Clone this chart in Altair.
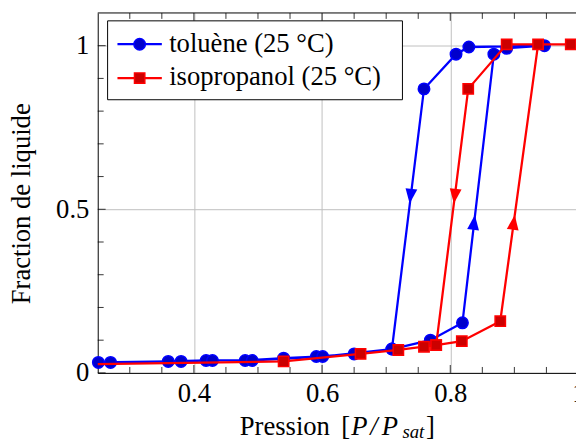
import altair as alt
import pandas as pd

# ---------------- data ----------------
# toluène (25 °C): adsorption branch then desorption branch (path order)
tol_x = [0.251, 0.360, 0.419, 0.480, 0.540, 0.591, 0.650, 0.709, 0.769, 0.819, 0.868, 0.888, 0.947,
         0.829, 0.809, 0.759, 0.709, 0.601, 0.491, 0.429, 0.380, 0.270]
tol_y = [0.032, 0.035, 0.038, 0.038, 0.045, 0.050, 0.058, 0.073, 0.100, 0.153, 0.974, 0.992, 1.000,
         0.996, 0.974, 0.868, 0.073, 0.050, 0.038, 0.038, 0.035, 0.032]
# isopropanol (25 °C): adsorption branch then desorption branch (first point lies left of the axis)
iso_x = [0.220, 0.540, 0.660, 0.719, 0.759, 0.778, 0.818, 0.878, 0.937, 0.988, 0.888, 0.828, 0.778]
iso_y = [0.026, 0.035, 0.058, 0.070, 0.080, 0.085, 0.097, 0.158, 1.004, 1.004, 1.004, 0.868, 0.085]

# direction arrows drawn on the steep segments
arrow_series = ["tol", "tol", "iso", "iso"]
arrow_x = [0.738, 0.837, 0.807, 0.899]
arrow_y = [0.540, 0.460, 0.540, 0.460]
arrow_dir = ["down", "up", "down", "up"]
arrow_angle = [7, 7, 7, 8]

x_major = [0.4, 0.6, 0.8, 1.0]
x_minor = [0.3, 0.35, 0.45, 0.5, 0.55, 0.65, 0.7, 0.75, 0.85, 0.9, 0.95]
y_major = [0.0, 0.5, 1.0]
y_minor = [0.1, 0.2, 0.3, 0.4, 0.6, 0.7, 0.8, 0.9]

legend_labels = ["toluène (25 °C)", "isopropanol (25 °C)"]
x_title_parts = ["Pression", "[", "P", "/", "P", "sat", "]"]
y_title = "Fraction de liquide"

# ---------------- styling ----------------
FONT = "Liberation Serif"
FS = 27
BLUE, BLUE_FILL = "#0000ff", "#0000cc"
RED, RED_FILL = "#ff0000", "#cc0000"
GRID = "#bfbfbf"
LW = 2.3
W, H = 485, 365

xscale = alt.Scale(domain=[0.25, 1.0], range=[0, 487.5], nice=False, zero=False)
yscale = alt.Scale(domain=[0.0, 1.1], nice=False, zero=False)

tol_df = pd.DataFrame({"x": tol_x, "y": tol_y, "i": list(range(len(tol_x)))})
iso_df = pd.DataFrame({"x": iso_x, "y": iso_y, "i": list(range(len(iso_x)))})
arr_df = pd.DataFrame({"s": arrow_series, "x": arrow_x, "y": arrow_y,
                       "d": arrow_dir, "a": arrow_angle})

x_axis = alt.Axis(values=x_major, format="~g", grid=True, gridColor=GRID, gridWidth=1,
                  ticks=False, domain=True, domainColor="black", domainWidth=1,
                  labelFont=FONT, labelFontSize=FS, labelColor="black", labelPadding=8,
                  labelFlush=False, labelOverlap=False, title=None)
y_axis = alt.Axis(values=y_major, format="~g", grid=True, gridColor=GRID, gridWidth=1,
                  ticks=False, domain=True, domainColor="black", domainWidth=1,
                  labelFont=FONT, labelFontSize=FS, labelColor="black", labelPadding=9,
                  labelFlush=False, labelOverlap=False,
                  title=y_title, titleFont=FONT, titleFontSize=FS, titleFontWeight="normal",
                  titleColor="black", titleX=-69, titleY=193, titleAlign="center",
                  titleBaseline="alphabetic")

def X(field="x"):
    return alt.X(f"{field}:Q", scale=xscale, axis=x_axis)

def Y(field="y"):
    return alt.Y(f"{field}:Q", scale=yscale, axis=y_axis)

# ---- data layers ----
tol_line = alt.Chart(tol_df).mark_line(color=BLUE, strokeWidth=LW, clip=True).encode(
    x=X(), y=Y(), order=alt.Order("i:Q"))
tol_pts = alt.Chart(tol_df).mark_point(shape="circle", size=135, fill=BLUE_FILL, stroke=BLUE,
                                       strokeWidth=1.5, opacity=1, fillOpacity=1).encode(
    x=X(), y=Y())
iso_line = alt.Chart(iso_df).mark_line(color=RED, strokeWidth=LW, clip=True).encode(
    x=X(), y=Y(), order=alt.Order("i:Q"))
iso_pts = alt.Chart(iso_df).transform_filter(alt.datum.x >= 0.25).mark_point(
    shape="square", size=110, fill=RED_FILL, stroke=RED, strokeWidth=1.5,
    opacity=1, fillOpacity=1).encode(x=X(), y=Y())

tri_scale = alt.Scale(domain=["down", "up"],
                      range=["M-0.8,-1L0.8,-1L0,1Z", "M0,-1L0.8,1L-0.8,1Z"])

def arrows(series, color):
    return alt.Chart(arr_df).transform_filter(alt.datum.s == series).mark_point(
        filled=True, size=225, color=color, opacity=1, strokeWidth=0).encode(
        x=X(), y=Y(), shape=alt.Shape("d:N", scale=tri_scale, legend=None),
        angle=alt.Angle("a:Q", scale=None))

tol_arr = arrows("tol", BLUE)
iso_arr = arrows("iso", RED)

# ---- inward ticks and top frame ----
def xticks(vals, length):
    df = pd.DataFrame({"x": vals})
    bottom = alt.Chart(df).mark_rule(color="black", strokeWidth=0.8).encode(
        x=X(), y=alt.value(H), y2=alt.value(H - length))
    top = alt.Chart(df).mark_rule(color="black", strokeWidth=0.8).encode(
        x=X(), y=alt.value(0), y2=alt.value(length))
    return [bottom, top]

def yticks(vals, length):
    df = pd.DataFrame({"y": vals})
    return [alt.Chart(df).mark_rule(color="black", strokeWidth=0.8).encode(
        y=Y(), x=alt.value(0), x2=alt.value(length))]

top_frame = alt.Chart(pd.DataFrame({"k": [0]})).mark_rule(color="black", strokeWidth=1).encode(
    x=alt.value(0), x2=alt.value(490), y=alt.value(0))

# ---- legend (pgfplots style, top left inside the axes) ----
leg_box = alt.Chart(pd.DataFrame({"k": [0]})).mark_rect(
    fill="white", stroke="black", strokeWidth=1).encode(
    x=alt.value(10), x2=alt.value(309), y=alt.value(8), y2=alt.value(88))

def leg_entry(label, yrow, ybase, color, fill, shape, size):
    seg = alt.Chart(pd.DataFrame({"k": [0]})).mark_rule(color=color, strokeWidth=LW).encode(
        x=alt.value(20), x2=alt.value(65), y=alt.value(yrow))
    mk = alt.Chart(pd.DataFrame({"k": [0]})).mark_point(
        shape=shape, size=size, fill=fill, stroke=color, strokeWidth=1.5,
        opacity=1, fillOpacity=1).encode(x=alt.value(42.5), y=alt.value(yrow))
    txt = alt.Chart(pd.DataFrame({"k": [0]})).mark_text(
        text=label, font=FONT, fontSize=FS, align="left", baseline="alphabetic",
        color="black").encode(x=alt.value(72.5), y=alt.value(ybase))
    return [seg, mk, txt]

legend = [leg_box] + leg_entry(legend_labels[0], 31.7, 39.5, BLUE, BLUE_FILL, "circle", 135) \
    + leg_entry(legend_labels[1], 66, 73.5, RED, RED_FILL, "square", 110)

# ---- x title: Pression [P/P_sat] ----
def ttext(s, x, y, size=FS, style="normal", align="left"):
    return alt.Chart(pd.DataFrame({"k": [0]})).mark_text(
        text=s, font=FONT, fontSize=size, fontStyle=style, align=align,
        baseline="alphabetic", color="black").encode(x=alt.value(x), y=alt.value(y))

xtitle = [ttext(x_title_parts[0], 144, 428),
          ttext(x_title_parts[1], 247, 428),
          ttext(x_title_parts[2], 257, 428, style="italic"),
          ttext(x_title_parts[3], 280, 428, style="italic", align="center"),
          ttext(x_title_parts[4], 288, 428, style="italic"),
          ttext(x_title_parts[5], 309, 431, size=19, style="italic"),
          ttext(x_title_parts[6], 333, 428)]

layers = ([tol_line]
          + xticks(x_minor, 6) + xticks(x_major, 8) + yticks(y_minor, 6) + yticks(y_major, 8)
          + [top_frame]
          + [tol_pts, tol_arr, iso_line, iso_pts, iso_arr]
          + legend + xtitle)

chart = alt.layer(*layers).properties(
    width=W, height=H,
    autosize=alt.AutoSizeParams(type="none"),
    padding={"left": 91, "top": 2, "right": 0, "bottom": 64},
    background="white",
).configure_view(stroke=None)

chart.save("out.html", embed_options={"renderer": "svg", "actions": False})
